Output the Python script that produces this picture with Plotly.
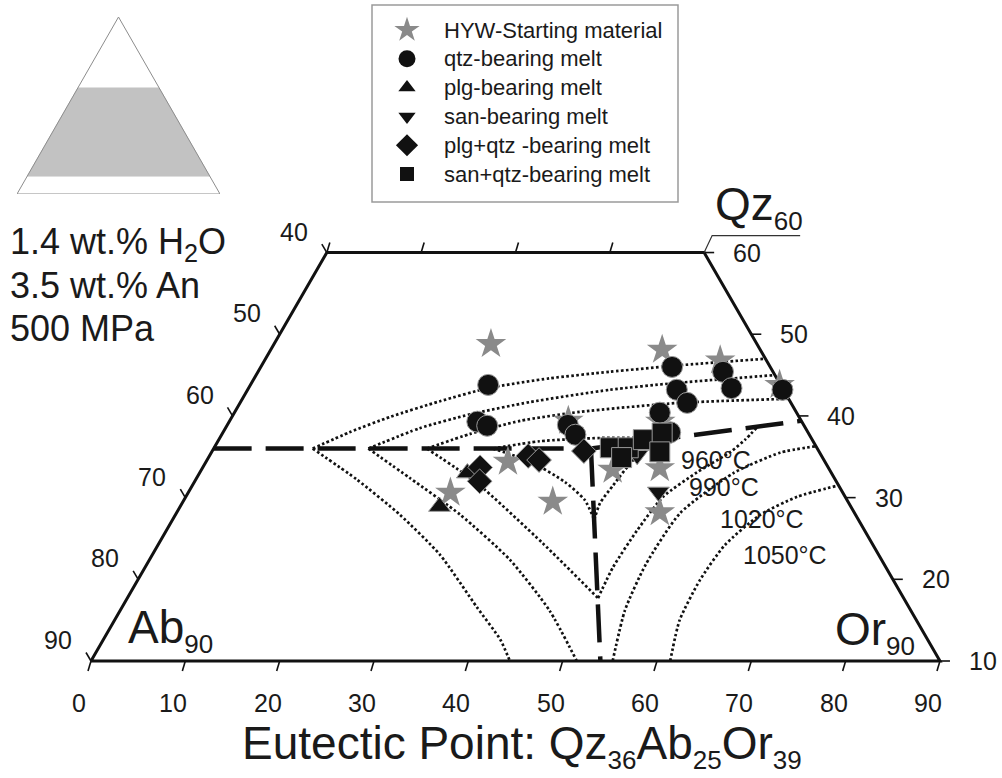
import numpy as np
import plotly.graph_objects as go

W, H = 1002, 778
HALF_SQRT3 = np.sqrt(3) / 2
PX = 9.433            # pixels per composition unit in the main diagram
ORIGIN_PX = (91, 661)  # pixel position of Ab90 corner (Qz 10, Or 0)

FONT = "Liberation Sans, Arial, sans-serif"
INK = "#1a1a1a"

# ---------------- compositions (wt.%: Qz, Or; Ab = 100 - Qz - Or) ----------------
star_qz = [48.8, 34.4, 30.6, 29.5, 48.1, 46.8, 43.8, 39.3, 33.4, 33.6, 28.2, 39.4]
star_or = [23.0, 32.0, 27.8, 39.2, 41.5, 48.3, 56.1, 45.7, 43.6, 48.5, 51.2, 35.9]

qtz_qz = [43.8, 39.3, 38.8, 38.9, 37.7, 46.0, 43.2, 41.6, 45.4, 43.4, 43.2, 40.4, 38.0]
qtz_or = [25.2, 26.3, 27.6, 36.1, 37.5, 43.6, 45.5, 47.4, 49.3, 51.2, 56.7, 45.1, 47.4]

plg_qz = [28.9, 33.0]
plg_or = [27.5, 28.4]

san_qz = [35.2, 30.7]
san_or = [45.3, 49.8]

plgqtz_qz = [33.7, 32.0, 35.1, 34.6, 35.7]
plgqtz_or = [29.4, 30.2, 33.8, 35.2, 39.4]

sanqtz_qz = [36.1, 36.1, 37.1, 37.9, 35.6, 34.9]
sanqtz_or = [42.0, 43.9, 45.0, 46.6, 47.5, 43.8]

# cotectic lines
cot_ab_qz = [36.0, 36.0]            # qtz / feldspar boundary (Ab side)
cot_ab_or = [0.0, 40.0]
cot_or_qz = [36.0, 39.4]            # qtz / feldspar boundary (Or side)
cot_or_or = [40.0, 60.6]
cot_fsp_qz = [36.0, 10.0]           # plg / san boundary
cot_fsp_or = [40.0, 54.0]

# isotherms: quartz-field branches
iso_q1_qz = [36.0, 38.0, 39.9, 41.8, 43.4, 44.6, 45.4, 46.2, 47.0]
iso_q1_or = [10.5, 13.4, 16.8, 21.1, 25.4, 31.3, 37.3, 44.3, 53.0]
iso_q2_qz = [36.0, 38.5, 40.2, 41.7, 43.2, 44.0, 45.0]
iso_q2_or = [16.4, 20.6, 25.1, 30.7, 38.4, 44.7, 55.0]
iso_q3_qz = [36.0, 37.8, 39.4, 40.5, 41.6, 42.1]
iso_q3_or = [22.6, 26.3, 30.8, 36.6, 46.6, 57.9]
iso_q4_qz = [36.0, 36.9, 37.3, 37.3]
iso_q4_or = [29.6, 34.1, 40.3, 48.2]
# isotherms: Ab-feldspar field branches
iso_a1_qz = [36.0, 32.2, 27.9, 23.0, 16.6, 12.6, 10.0]
iso_a1_or = [10.5, 17.1, 23.8, 30.5, 37.6, 42.1, 44.4]
iso_a2_qz = [36.0, 32.4, 27.9, 22.4, 16.2, 10.0]
iso_a2_or = [16.4, 22.6, 30.2, 38.2, 45.5, 51.5]
iso_a3_qz = [36.0, 31.8, 24.4, 17.7]
iso_a3_or = [22.6, 30.0, 40.7, 49.9]
iso_a4_qz = [36.0, 34.4, 31.9, 29.7, 27.3]
iso_a4_or = [29.6, 34.4, 39.3, 42.5, 44.7]
# isotherms: Or-feldspar field branches
iso_o1_qz = [27.3, 29.3, 31.5, 34.6, 36.4, 37.3]
iso_o1_or = [44.7, 44.3, 44.6, 45.2, 46.6, 48.2]
iso_o2_qz = [17.7, 21.5, 26.0, 30.1, 33.1, 35.6, 37.1, 38.6]
iso_o2_or = [49.9, 49.6, 49.9, 50.6, 52.7, 55.0, 55.8, 56.3]
iso_o3_qz = [10.0, 16.2, 21.8, 28.1, 33.0, 35.5, 36.3]
iso_o3_or = [55.3, 53.5, 52.9, 53.4, 56.6, 60.3, 63.7]
iso_o4_qz = [10.0, 15.0, 19.9, 24.2, 27.9, 30.1, 31.5]
iso_o4_or = [61.4, 59.9, 59.6, 60.1, 62.0, 64.8, 68.5]

temp_labels = ["960°C", "990°C", "1020°C", "1050°C"]

# axis ticks
bottom_or_ticks = [0, 10, 20, 30, 40, 50, 60, 70, 80, 90]
top_or_ticks = [0, 10, 20, 30]
left_ab_ticks = [40, 50, 60, 70, 80, 90]
right_qz_ticks = [10, 20, 30, 40, 50, 60]

# diagram outline (truncated at Qz 10 and Qz 60)
frame_qz = [10, 10, 60, 60, 10]
frame_or = [0, 90, 40, 0, 0]

# inset: full ternary and the shaded Qz 10-60 band
inset_tri_qz = [0, 0, 100, 0]
inset_tri_or = [0, 100, 0, 0]
inset_band_qz = [10, 10, 60, 60, 10]
inset_band_or = [0, 90, 40, 0, 0]

legend_labels = ["HYW-Starting material", "qtz-bearing melt", "plg-bearing melt",
                 "san-bearing melt", "plg+qtz -bearing melt", "san+qtz-bearing melt"]


def tern(qz, orr):
    """Qz-Ab-Or composition -> cartesian (Qz apex up, Or to the right)."""
    qz = np.asarray(qz, float)
    orr = np.asarray(orr, float)
    return orr + qz / 2.0, qz * HALF_SQRT3


fig = go.Figure()

# ---------- main diagram ----------
def add_line(qz, orr, width, dash, color="#111111"):
    x, y = tern(qz, orr)
    fig.add_trace(go.Scatter(x=x, y=y, mode="lines", hoverinfo="skip",
                             line=dict(color=color, width=width, dash=dash, shape="spline", smoothing=0.6),
                             showlegend=False, xaxis="x", yaxis="y"))

isotherms = [
    (iso_q1_qz, iso_q1_or), (iso_q2_qz, iso_q2_or), (iso_q3_qz, iso_q3_or), (iso_q4_qz, iso_q4_or),
    (iso_a1_qz, iso_a1_or), (iso_a2_qz, iso_a2_or), (iso_a3_qz, iso_a3_or), (iso_a4_qz, iso_a4_or),
    (iso_o1_qz, iso_o1_or), (iso_o2_qz, iso_o2_or), (iso_o3_qz, iso_o3_or), (iso_o4_qz, iso_o4_or),
]
for q, o in isotherms:
    add_line(q, o, 2.7, "2.6px,2.4px")

for q, o in [(cot_ab_qz, cot_ab_or), (cot_or_qz, cot_or_or), (cot_fsp_qz, cot_fsp_or)]:
    x, y = tern(q, o)
    fig.add_trace(go.Scatter(x=x, y=y, mode="lines", hoverinfo="skip",
                             line=dict(color="#111111", width=4.5, dash="38px,14px"),
                             showlegend=False))

# frame
fx, fy = tern(frame_qz, frame_or)
fig.add_trace(go.Scatter(x=fx, y=fy, mode="lines", line=dict(color="#111111", width=3),
                         hoverinfo="skip", showlegend=False))

# ticks
tx, ty = [], []
def ticks(qz_list, or_list, dx_px, dy_px):
    for q, o in zip(qz_list, or_list):
        x, y = tern(q, o)
        tx.extend([float(x), float(x) + dx_px / PX, None])
        ty.extend([float(y), float(y) + dy_px / PX, None])

ticks([10] * len(bottom_or_ticks), bottom_or_ticks, -3, -10)
ticks([60] * len(top_or_ticks), top_or_ticks, 3, 10)
ticks([100 - a for a in left_ab_ticks], [0] * len(left_ab_ticks), -5, 8.5)
ticks(right_qz_ticks, [100 - q for q in right_qz_ticks], 10, 0)
fig.add_trace(go.Scatter(x=tx, y=ty, mode="lines", line=dict(color="#111111", width=1.6),
                         hoverinfo="skip", showlegend=False))

# leader line from the Qz60 corner to the apex label
cx, cy = tern(60, 40)
fig.add_trace(go.Scatter(x=[cx, cx + 8 / PX, cx + 96 / PX], y=[cy, cy + 17 / PX, cy + 17 / PX],
                         mode="lines", line=dict(color="#333333", width=1.2),
                         hoverinfo="skip", showlegend=False))

# sample markers
def add_markers(qz, orr, symbol, size, color, outline):
    x, y = tern(qz, orr)
    fig.add_trace(go.Scatter(x=x, y=y, mode="markers", hoverinfo="skip", showlegend=False,
                             marker=dict(symbol=symbol, size=size, color=color,
                                         line=dict(color=outline, width=1 if outline else 0))))

add_markers(star_qz, star_or, "star", 23, "#8a8a8a", None)
add_markers(plg_qz, plg_or, "triangle-up", 19, "#111111", "#9a9a9a")
add_markers(san_qz, san_or, "triangle-down", 19, "#111111", "#9a9a9a")
add_markers(qtz_qz, qtz_or, "circle", 21, "#111111", "#9a9a9a")
add_markers(plgqtz_qz, plgqtz_or, "diamond", 19, "#111111", "#9a9a9a")
add_markers(sanqtz_qz, sanqtz_or, "square", 20, "#111111", "#9a9a9a")

annotations = []

def label(text, x, y, xshift=0, yshift=0, size=25, xanchor="center", ref="x"):
    annotations.append(dict(text=text, x=x, y=y, xref=ref, yref=ref.replace("x", "y"),
                            xshift=xshift, yshift=yshift, showarrow=False,
                            xanchor=xanchor, yanchor="middle",
                            font=dict(family=FONT, size=size, color=INK)))

for o in bottom_or_ticks:
    x, y = tern(10, o)
    label(str(o), float(x), float(y), -12, -42)
for a in left_ab_ticks:
    x, y = tern(100 - a, 0)
    label(str(a), float(x), float(y), -33, 21)
for q in right_qz_ticks:
    x, y = tern(q, 100 - q)
    label(str(q), float(x), float(y), 43, 0)

# ---------- inset triangle ----------
bx, by = tern(inset_band_qz, inset_band_or)
fig.add_trace(go.Scatter(x=bx, y=by, mode="lines", fill="toself", fillcolor="#c2c2c2",
                         line=dict(color="#c2c2c2", width=0.5), hoverinfo="skip",
                         showlegend=False, xaxis="x2", yaxis="y2"))
ix, iy = tern(inset_tri_qz, inset_tri_or)
fig.add_trace(go.Scatter(x=ix, y=iy, mode="lines", line=dict(color="#8c8c8c", width=1),
                         hoverinfo="skip", showlegend=False, xaxis="x2", yaxis="y2"))

# ---------- legend (pixel-space overlay) ----------
leg_styles = [("star", 19, "#8a8a8a"), ("circle", 17, "#111111"), ("triangle-up", 15, "#111111"),
              ("triangle-down", 15, "#111111"), ("diamond", 17, "#111111"), ("square", 14, "#111111")]
for i, (lab, (sym, sz, col)) in enumerate(zip(legend_labels, leg_styles)):
    yy = 30 + i * 28.8
    fig.add_trace(go.Scatter(x=[407], y=[yy], mode="markers", hoverinfo="skip", showlegend=False,
                             marker=dict(symbol=sym, size=sz, color=col),
                             xaxis="x3", yaxis="y3"))
    label(lab, 442, yy, size=22, xanchor="left", ref="x3")

# ---------- text ----------
label("1.4 wt.% H<sub>2</sub>O", 8, 244, size=36, xanchor="left", ref="x3")
label("3.5 wt.% An", 8, 285, size=36, xanchor="left", ref="x3")
label("500 MPa", 8, 328, size=36, xanchor="left", ref="x3")

label("Qz<sub><span style='font-size:26px'>60</span></sub>", 713, 207, size=46, xanchor="left", ref="x3")
label("Ab<sub><span style='font-size:26px'>90</span></sub>", 126, 630, size=46, xanchor="left", ref="x3")
label("Or<sub><span style='font-size:26px'>90</span></sub>", 833, 632, size=46, xanchor="left", ref="x3")

label("Eutectic Point: Qz<sub><span style='font-size:26px'>36</span></sub>"
      "Ab<sub><span style='font-size:26px'>25</span></sub>"
      "Or<sub><span style='font-size:26px'>39</span></sub>", 522, 746, size=46, ref="x3")

temp_pos = [(716, 460), (724, 487), (762, 519), (785, 555)]
for t, (px_, py_) in zip(temp_labels, temp_pos):
    label(t, px_, py_, size=25, ref="x3")

x0 = 5 - ORIGIN_PX[0] / PX
y0 = 10 * HALF_SQRT3 - (H - ORIGIN_PX[1]) / PX
hidden = dict(visible=False, showgrid=False, zeroline=False, fixedrange=True)

fig.update_layout(
    width=W, height=H, margin=dict(l=0, r=0, t=0, b=0),
    paper_bgcolor="white", plot_bgcolor="rgba(0,0,0,0)",
    showlegend=False,
    xaxis=dict(range=[x0, x0 + W / PX], domain=[0, 1], anchor="y", **hidden),
    yaxis=dict(range=[y0, y0 + H / PX], domain=[0, 1], anchor="x", **hidden),
    xaxis2=dict(range=[0, 100], domain=[17 / W, 220 / W], anchor="y2", **hidden),
    yaxis2=dict(range=[0, 100 * HALF_SQRT3], domain=[1 - 194 / H, 1 - 17 / H], anchor="x2", **hidden),
    xaxis3=dict(range=[0, W], domain=[0, 1], anchor="y3", **hidden),
    yaxis3=dict(range=[H, 0], domain=[0, 1], anchor="x3", **hidden),
    annotations=annotations,
    shapes=[dict(type="rect", xref="x3", yref="y3", x0=372, x1=678, y0=5, y1=202,
                 line=dict(color="#9a9a9a", width=1.5), layer="below")],
)

fig.write_html("out.html")
